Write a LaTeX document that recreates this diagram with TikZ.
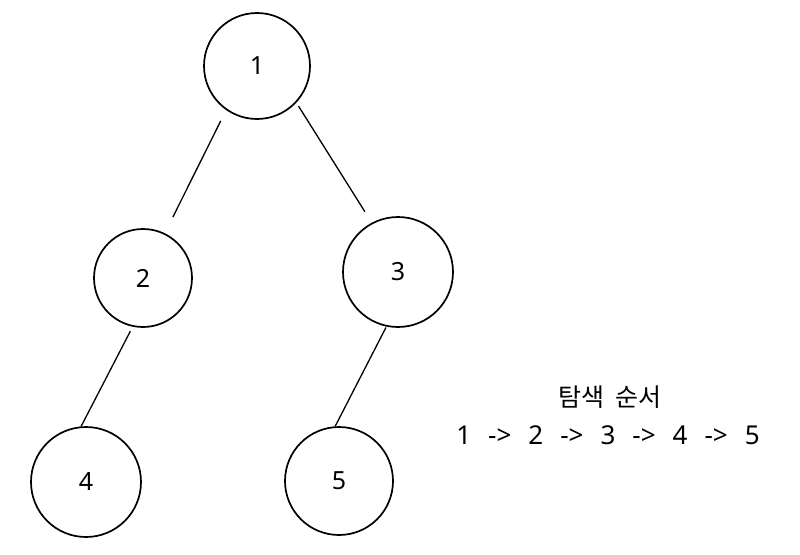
\documentclass[tikz,border=0pt]{standalone}
\usepackage{fontspec}
\setmainfont{Noto Sans}
\newfontfamily\cjk{Noto Sans CJK KR}
\newcommand{\arrsep}{\hspace{17pt}->\hspace{17pt}}
\begin{document}
\begin{tikzpicture}[x=1pt,y=-1pt,
  tnode/.style={circle,draw=black,line width=1.7pt,inner sep=0pt,font=\fontsize{25}{30}\selectfont},
  edge/.style={draw=black,line width=1.3pt}]
\useasboundingbox (0,0) rectangle (800,554);
\node[tnode,minimum size=106pt] (n1) at (257,66) {1};
\node[tnode,minimum size=98pt] (n2) at (143,278) {2};
\node[tnode,minimum size=110pt] (n3) at (398,272) {3};
\node[tnode,minimum size=110pt] (n4) at (86,482) {4};
\node[tnode,minimum size=108pt] (n5) at (339,481) {5};
\draw[edge,shorten <=12pt,shorten >=18pt] (n1.235.6) -- (n2.64.6);
\draw[edge,shorten <=4pt,shorten >=13pt] (n1.-43.6) -- (n3.118);
\draw[edge,shorten <=5pt,shorten >=0pt] (n2.258) -- (n4.95);
\draw[edge,shorten <=1pt,shorten >=0pt] (n3.258) -- (n5.94);
\node[font=\cjk\fontsize{25}{30}\selectfont] (title) at (610,397) {탐색\hspace{6pt} 순서};
\node[font=\fontsize{26}{30}\selectfont] (order) at (608,435) {1\arrsep 2\arrsep 3\arrsep 4\arrsep 5};
\end{tikzpicture}
\end{document}
